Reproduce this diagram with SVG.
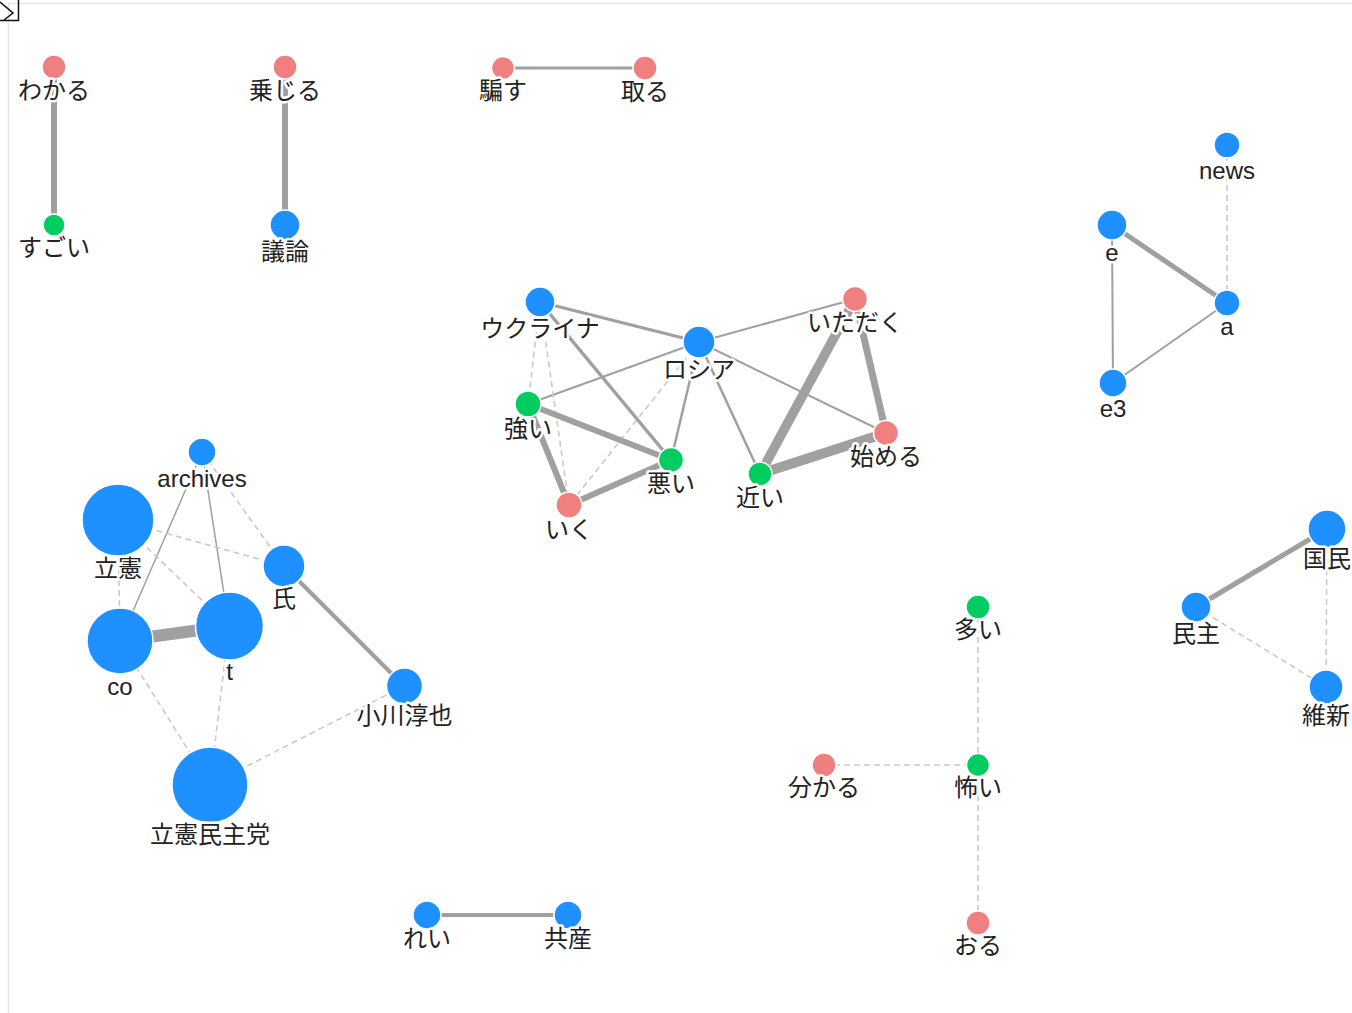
<svg xmlns="http://www.w3.org/2000/svg" width="1352" height="1013" viewBox="0 0 1352 1013">
<style>
.l{stroke:#a0a0a0;fill:none}
.d{stroke:#cacaca;stroke-width:1.6;stroke-dasharray:6,4;fill:none}
.b{fill:#1e90ff;stroke:#fff;stroke-width:1.5}
.r{fill:#f08080;stroke:#fff;stroke-width:1.5}
.g{fill:#00cc60;stroke:#fff;stroke-width:1.5}
text{font-family:"Liberation Sans","Noto Sans CJK JP",sans-serif;font-size:24px;fill:#222;text-anchor:middle;stroke:#fff;stroke-width:5;stroke-linejoin:round;paint-order:stroke}
</style>
<rect width="1352" height="1013" fill="#fff"/>
<g id="frame" fill="none">
<line x1="8" y1="3.5" x2="1352" y2="3.5" stroke="#e2e5ea" stroke-width="1.5"/>
<line x1="8.5" y1="3" x2="8.5" y2="1013" stroke="#e2e5ea" stroke-width="1.5"/>
<polyline points="-1,20.5 18.5,20.5 18.5,-1" stroke="#111" stroke-width="1.5"/>
<polyline points="0,2 13,13 4,20" stroke="#111" stroke-width="1.5"/>
</g>
<g id="links">
<line class="l" x1="54" y1="67" x2="54" y2="225" stroke-width="6"/>
<line class="l" x1="285" y1="67" x2="285" y2="225" stroke-width="6"/>
<line class="l" x1="503" y1="68" x2="645" y2="68" stroke-width="3"/>
<line class="l" x1="540" y1="302" x2="699" y2="342" stroke-width="3"/>
<line class="l" x1="699" y1="342" x2="855" y2="299" stroke-width="2"/>
<line class="l" x1="699" y1="342" x2="528" y2="404" stroke-width="2"/>
<line class="l" x1="699" y1="342" x2="671" y2="460" stroke-width="2.5"/>
<line class="l" x1="699" y1="342" x2="760" y2="474" stroke-width="2.5"/>
<line class="l" x1="699" y1="342" x2="886" y2="433" stroke-width="2"/>
<line class="d" x1="699" y1="342" x2="569" y2="505"/>
<line class="d" x1="540" y1="302" x2="528" y2="404"/>
<line class="d" x1="540" y1="302" x2="569" y2="505"/>
<line class="l" x1="540" y1="302" x2="671" y2="460" stroke-width="3.5"/>
<line class="l" x1="528" y1="404" x2="671" y2="460" stroke-width="6"/>
<line class="l" x1="528" y1="404" x2="569" y2="505" stroke-width="6"/>
<line class="l" x1="569" y1="505" x2="671" y2="460" stroke-width="6"/>
<line class="l" x1="855" y1="299" x2="760" y2="474" stroke-width="9.5"/>
<line class="l" x1="855" y1="299" x2="886" y2="433" stroke-width="7"/>
<line class="l" x1="760" y1="474" x2="886" y2="433" stroke-width="10"/>
<line class="l" x1="202" y1="452" x2="120" y2="641" stroke-width="1.5"/>
<line class="l" x1="202" y1="452" x2="229" y2="626" stroke-width="1.5"/>
<line class="d" x1="202" y1="452" x2="284" y2="566"/>
<line class="d" x1="118" y1="520" x2="284" y2="566"/>
<line class="d" x1="118" y1="520" x2="229" y2="626"/>
<line class="d" x1="118" y1="520" x2="120" y2="641"/>
<line class="l" x1="120" y1="641" x2="229" y2="626" stroke-width="12"/>
<line class="l" x1="284" y1="566" x2="404" y2="686" stroke-width="4"/>
<line class="d" x1="120" y1="641" x2="210" y2="785"/>
<line class="d" x1="229" y1="626" x2="210" y2="785"/>
<line class="d" x1="404" y1="686" x2="210" y2="785"/>
<line class="d" x1="1227" y1="145" x2="1227" y2="303"/>
<line class="l" x1="1112" y1="225" x2="1227" y2="303" stroke-width="5"/>
<line class="l" x1="1112" y1="225" x2="1113" y2="383" stroke-width="2"/>
<line class="l" x1="1227" y1="303" x2="1113" y2="383" stroke-width="2"/>
<line class="l" x1="1196" y1="607" x2="1327" y2="529" stroke-width="5"/>
<line class="d" x1="1196" y1="607" x2="1326" y2="687"/>
<line class="d" x1="1327" y1="529" x2="1326" y2="687"/>
<line class="d" x1="978" y1="607" x2="978" y2="765"/>
<line class="d" x1="824" y1="765" x2="978" y2="765"/>
<line class="d" x1="978" y1="765" x2="978" y2="923"/>
<line class="l" x1="427" y1="915" x2="568" y2="915" stroke-width="4"/>
</g>
<g id="n-wakaru"><circle class="r" cx="54" cy="67" r="12"/><text x="54" y="99">わかる</text></g>
<g id="n-sugoi"><circle class="g" cx="54" cy="225" r="11"/><text x="54" y="256">すごい</text></g>
<g id="n-joujiru"><circle class="r" cx="285" cy="67" r="12"/><text x="285" y="99">乗じる</text></g>
<g id="n-giron"><circle class="b" cx="285" cy="225" r="15"/><text x="285" y="260">議論</text></g>
<g id="n-damasu"><circle class="r" cx="503" cy="68" r="11.5"/><text x="503" y="99">騙す</text></g>
<g id="n-toru"><circle class="r" cx="645" cy="68" r="12"/><text x="645" y="100">取る</text></g>
<g id="n-ukraine"><circle class="b" cx="540" cy="302" r="15"/><text x="540" y="337">ウクライナ</text></g>
<g id="n-russia"><circle class="b" cx="699" cy="342" r="16"/><text x="699" y="378">ロシア</text></g>
<g id="n-itadaku"><circle class="r" cx="855" cy="299" r="12.5"/><text x="855" y="331">いただく</text></g>
<g id="n-tsuyoi"><circle class="g" cx="528" cy="404" r="13"/><text x="528" y="437">強い</text></g>
<g id="n-warui"><circle class="g" cx="671" cy="460" r="12.5"/><text x="671" y="492">悪い</text></g>
<g id="n-iku"><circle class="r" cx="569" cy="505" r="13"/><text x="569" y="538">いく</text></g>
<g id="n-chikai"><circle class="g" cx="760" cy="474" r="12"/><text x="760" y="506">近い</text></g>
<g id="n-hajimeru"><circle class="r" cx="886" cy="433" r="12.5"/><text x="886" y="465">始める</text></g>
<g id="n-archives"><circle class="b" cx="202" cy="452" r="14"/><text x="202" y="487">archives</text></g>
<g id="n-rikken"><circle class="b" cx="118" cy="520" r="36"/><text x="118" y="577">立憲</text></g>
<g id="n-shi"><circle class="b" cx="284" cy="566" r="21"/><text x="284" y="607">氏</text></g>
<g id="n-co"><circle class="b" cx="120" cy="641" r="33"/><text x="120" y="695">co</text></g>
<g id="n-t"><circle class="b" cx="229.5" cy="626" r="34"/><text x="229.5" y="680">t</text></g>
<g id="n-ogawa"><circle class="b" cx="404.5" cy="686" r="18"/><text x="404.5" y="724">小川淳也</text></g>
<g id="n-rikkenminshuto"><circle class="b" cx="210" cy="785" r="38"/><text x="210" y="843">立憲民主党</text></g>
<g id="n-news"><circle class="b" cx="1227" cy="145" r="13"/><text x="1227" y="179">news</text></g>
<g id="n-e"><circle class="b" cx="1112" cy="225" r="15"/><text x="1112" y="261">e</text></g>
<g id="n-a"><circle class="b" cx="1227" cy="303" r="13"/><text x="1227" y="335">a</text></g>
<g id="n-e3"><circle class="b" cx="1113" cy="383" r="14"/><text x="1113" y="417">e3</text></g>
<g id="n-kokumin"><circle class="b" cx="1327" cy="529" r="19"/><text x="1327" y="567">国民</text></g>
<g id="n-minshu"><circle class="b" cx="1196" cy="607" r="15"/><text x="1196" y="642">民主</text></g>
<g id="n-ishin"><circle class="b" cx="1326" cy="687" r="17"/><text x="1326" y="724">維新</text></g>
<g id="n-ooi"><circle class="g" cx="978" cy="607" r="12"/><text x="978" y="638">多い</text></g>
<g id="n-kowai"><circle class="g" cx="978" cy="765" r="11.5"/><text x="978" y="796">怖い</text></g>
<g id="n-wakaru2"><circle class="r" cx="824" cy="765" r="12"/><text x="824" y="796">分かる</text></g>
<g id="n-oru"><circle class="r" cx="978" cy="923" r="12"/><text x="978" y="954">おる</text></g>
<g id="n-rei"><circle class="b" cx="427" cy="915" r="14"/><text x="427" y="947">れい</text></g>
<g id="n-kyosan"><circle class="b" cx="568" cy="915" r="14"/><text x="568" y="947">共産</text></g>
</svg>
